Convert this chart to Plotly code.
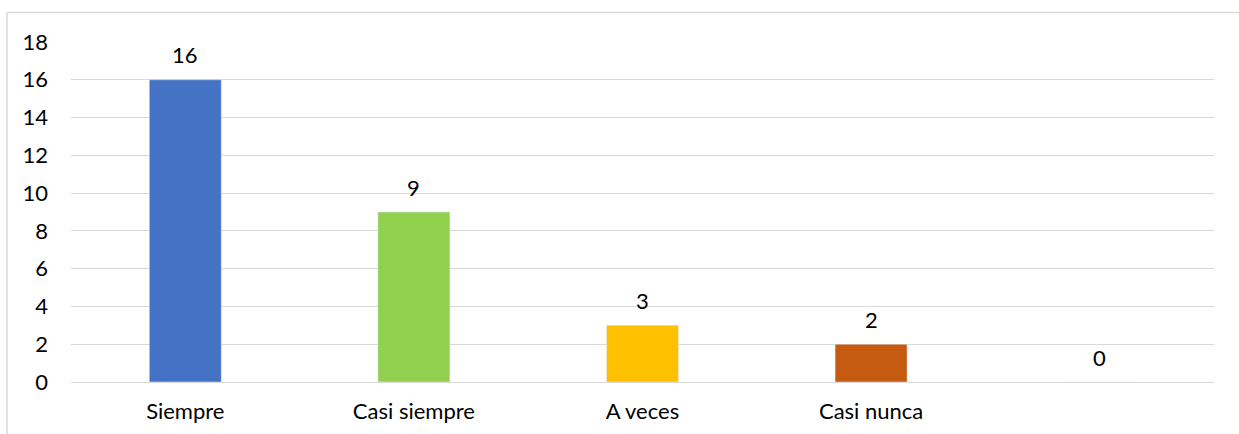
import plotly.graph_objects as go

categories = ["Siempre", "Casi siempre", "A veces", "Casi nunca", ""]
values = [16, 9, 3, 2, 0]
colors = ["#4472C4", "#92D050", "#FFC000", "#C55A11", "#A5A5A5"]
y_ticks = [0, 2, 4, 6, 8, 10, 12, 14, 16, 18]

W, H = 1239, 434
ml, mr, mt, mb = 71, 25, 42, 52
pw, ph = W - ml - mr, H - mt - mb
FONT = "Lato"
FS = 22

xs = list(range(len(categories)))
fig = go.Figure(go.Bar(x=xs, y=values, marker_color=colors, width=0.315, hoverinfo="skip"))

for x, v in zip(xs, values):
    fig.add_annotation(x=x, y=v, text=str(v), showarrow=False, yanchor="middle", yshift=25,
                       font=dict(family=FONT, size=FS, color="#000000"))

# chart frame (light grey border at top and left)
x_left = (7 - ml) / pw
y_top = (H - mb - 12.5) / ph
fig.add_shape(type="line", xref="paper", yref="paper", x0=x_left, x1=(W - ml) / pw + 0.01,
              y0=y_top, y1=y_top, line=dict(color="#D9D9D9", width=1.5))
fig.add_shape(type="line", xref="paper", yref="paper", x0=x_left, x1=x_left,
              y0=y_top, y1=-(mb + 5) / ph, line=dict(color="#D9D9D9", width=1.5))

fig.update_layout(
    width=W, height=H,
    margin=dict(l=ml, r=mr, t=mt, b=mb),
    plot_bgcolor="white", paper_bgcolor="white",
    showlegend=False,
    font=dict(family=FONT, size=FS, color="#000000"),
    xaxis=dict(range=[-0.5, len(categories) - 0.5], tickvals=xs, ticktext=categories,
               showgrid=False, zeroline=False, showline=False, ticks="", ticklabelstandoff=14,
               automargin=False),
    yaxis=dict(range=[0, 18], tickvals=y_ticks, showgrid=True, gridcolor="#D9D9D9", gridwidth=1.3,
               zeroline=True, zerolinecolor="#D9D9D9", zerolinewidth=1.3, showline=False,
               ticks="", ticklabelstandoff=22, automargin=False),
)

fig.write_html("out.html", config={"displayModeBar": False},
               post_script="document.body.style.margin='0';document.body.style.overflow='hidden';")
